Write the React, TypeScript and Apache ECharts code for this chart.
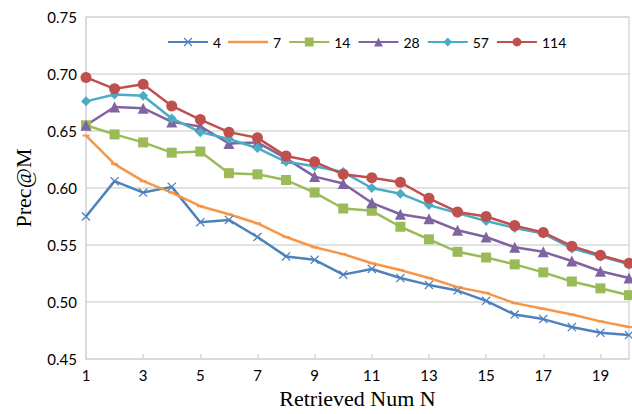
import React, { useEffect, useRef } from "react";
import * as echarts from "echarts";

const categories = ["1","2","3","4","5","6","7","8","9","10","11","12","13","14","15","16","17","18","19","20"];
const seriesNames = ["4", "7", "14", "28", "57", "114"];
const s4 = [0.575, 0.606, 0.596, 0.601, 0.570, 0.572, 0.557, 0.540, 0.537, 0.524, 0.529, 0.521, 0.515, 0.510, 0.501, 0.489, 0.485, 0.478, 0.473, 0.471];
const s7 = [0.646, 0.621, 0.606, 0.596, 0.584, 0.577, 0.569, 0.557, 0.548, 0.542, 0.534, 0.528, 0.521, 0.513, 0.508, 0.499, 0.494, 0.489, 0.483, 0.478];
const s14 = [0.655, 0.647, 0.640, 0.631, 0.632, 0.613, 0.612, 0.607, 0.596, 0.582, 0.580, 0.566, 0.555, 0.544, 0.539, 0.533, 0.526, 0.518, 0.512, 0.506];
const s28 = [0.655, 0.671, 0.670, 0.658, 0.654, 0.639, 0.640, 0.626, 0.610, 0.604, 0.587, 0.577, 0.573, 0.563, 0.557, 0.548, 0.544, 0.536, 0.527, 0.521];
const s57 = [0.676, 0.682, 0.681, 0.661, 0.649, 0.643, 0.635, 0.623, 0.619, 0.614, 0.600, 0.595, 0.585, 0.578, 0.571, 0.565, 0.560, 0.547, 0.540, 0.533];
const s114 = [0.697, 0.687, 0.691, 0.672, 0.660, 0.649, 0.644, 0.628, 0.623, 0.612, 0.609, 0.605, 0.591, 0.579, 0.575, 0.567, 0.561, 0.549, 0.541, 0.534];
const seriesData = [s4, s7, s14, s28, s57, s114];

const colors = ["#4F81BD", "#F79646", "#9BBB59", "#8064A2", "#4BACC6", "#C0504D"];
const crossPath = "path://M1,0 L5,4 L9,0 L10,1 L6,5 L10,9 L9,10 L5,6 L1,10 L0,9 L4,5 L0,1 Z";
const symbols: any[] = [crossPath, "rect", "rect", "triangle", "diamond", "circle"];
const symbolSizes: any[] = [9, [7, 2], 10, 11, 10, 11];
const dashLegendIcon = "path://M0,0 L40,0 L40,2.5 L0,2.5 Z";

export default function App() {
  const ref = useRef<HTMLDivElement>(null);
  useEffect(() => {
    if (!ref.current) return;
    const chart = echarts.init(ref.current, undefined, { renderer: "svg" });
    const labelFont = "Lato, 'Open Sans', sans-serif";
    const titleFont = "'Liberation Serif', 'Times New Roman', serif";
    chart.setOption({
      animation: false,
      backgroundColor: "#ffffff",
      color: colors,
      grid: {
        left: 86,
        right: 3,
        top: 17,
        bottom: 54,
        show: true,
        borderColor: "#d9d9d9",
        borderWidth: 1.5,
      },
      legend: {
        top: 30,
        left: 162,
        itemWidth: 40,
        itemHeight: 11,
        itemGap: 7,
        textStyle: { fontFamily: labelFont, fontSize: 14, color: "#000" },
        data: seriesNames.map((n, i) => (i === 1 ? { name: n, icon: dashLegendIcon } : { name: n })),
      },
      xAxis: {
        type: "category",
        data: categories,
        boundaryGap: false,
        name: "Retrieved Num N",
        nameLocation: "middle",
        nameGap: 28,
        nameTextStyle: { fontFamily: titleFont, fontSize: 22, color: "#000" },
        axisLine: { lineStyle: { color: "#d9d9d9", width: 1.5 } },
        axisTick: { show: true, inside: true, length: 5, interval: 1, lineStyle: { color: "#d9d9d9", width: 1.5 } },
        axisLabel: { interval: 1, fontFamily: labelFont, fontSize: 15, color: "#000", margin: 8 },
        splitLine: { show: false },
      },
      yAxis: {
        type: "value",
        min: 0.45,
        max: 0.75,
        interval: 0.05,
        name: "Prec@M",
        nameLocation: "middle",
        nameGap: 52,
        nameTextStyle: { fontFamily: titleFont, fontSize: 22, color: "#000" },
        axisLine: { show: true, lineStyle: { color: "#d9d9d9", width: 1.5 } },
        axisTick: { show: false },
        axisLabel: {
          fontFamily: labelFont,
          fontSize: 15,
          color: "#000",
          margin: 9,
          formatter: (v: number) => v.toFixed(2),
        },
        splitLine: { show: true, lineStyle: { color: "#d9d9d9", width: 1.5 } },
      },
      series: seriesNames.map((name, i) => ({
        name,
        type: "line",
        data: seriesData[i],
        symbol: symbols[i],
        symbolSize: symbolSizes[i],
        showAllSymbol: true,
        lineStyle: { width: 2.5, color: colors[i] },
        itemStyle: { color: colors[i] },
      })),
    });
    return () => chart.dispose();
  }, []);
  return <div ref={ref} style={{ width: 632, height: 414, position: "absolute", left: 0, top: 0 }} />;
}
